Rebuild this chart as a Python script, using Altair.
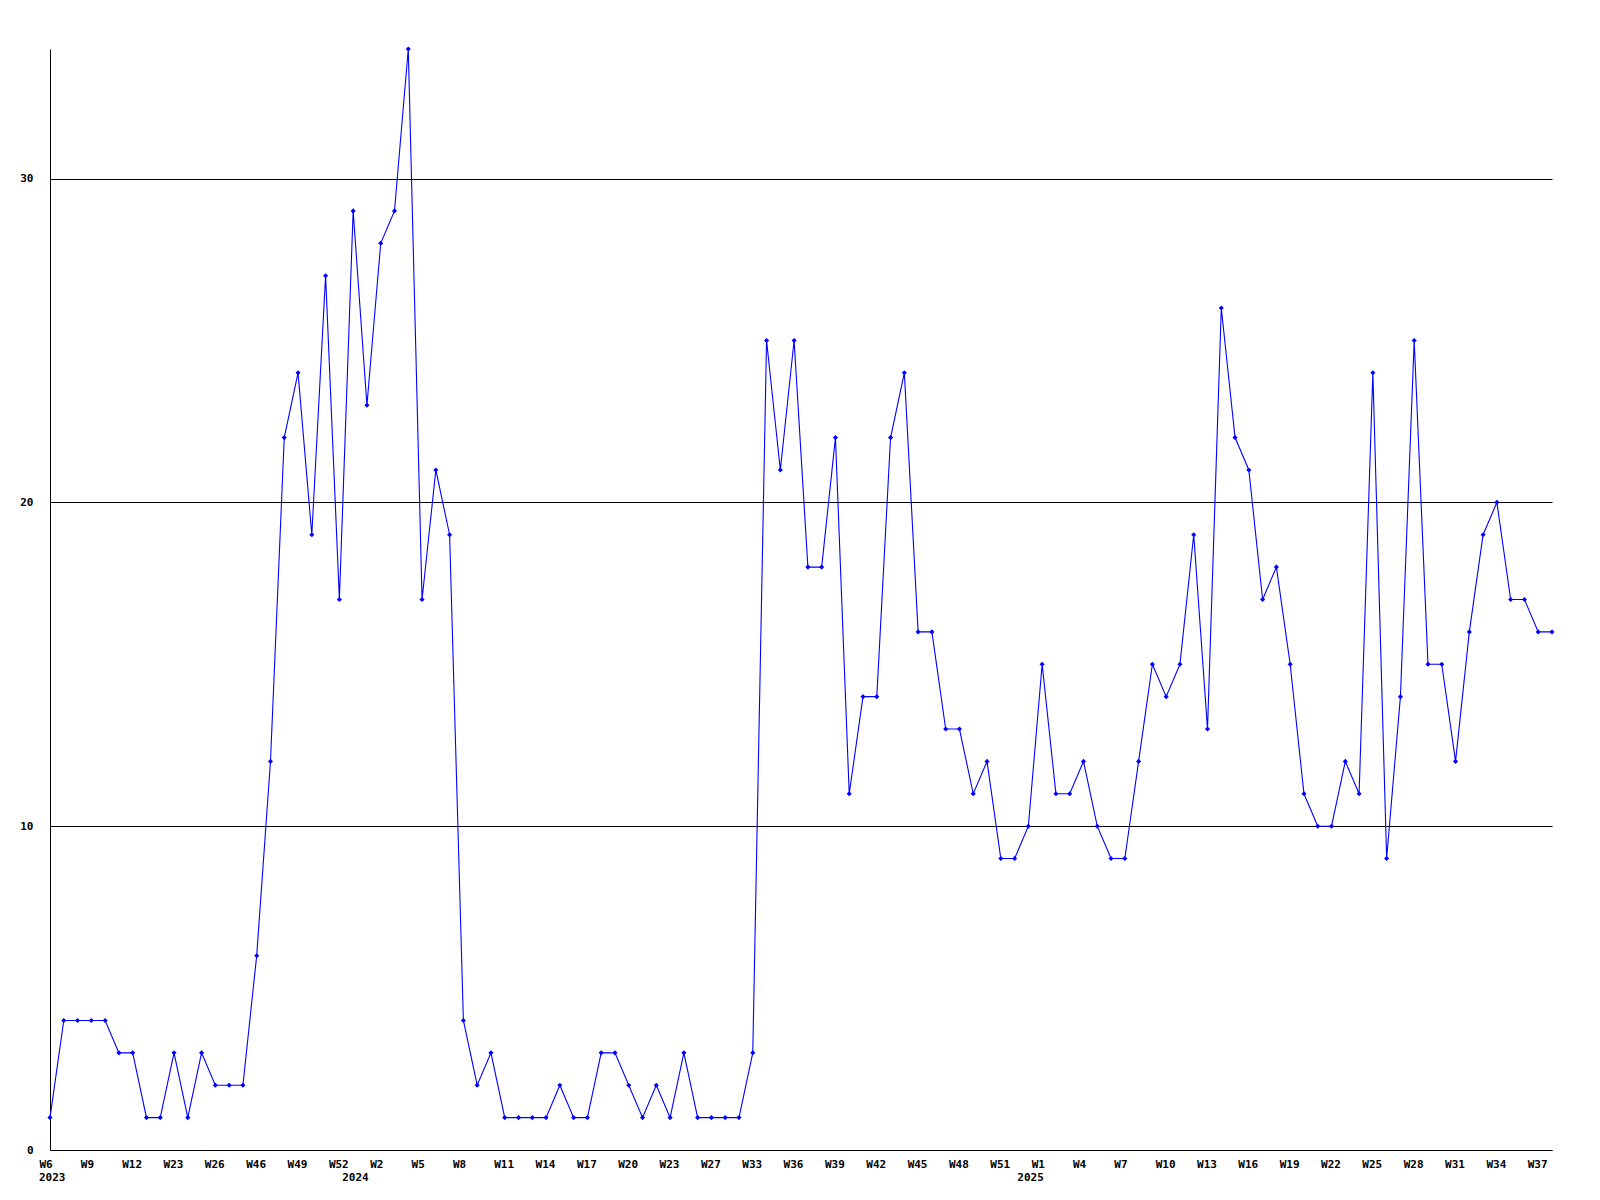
import altair as alt
import pandas as pd

# Weekly counts, one value per point
values = [
    1, 4, 4, 4, 4, 3, 3, 1, 1, 3, 1, 3, 2, 2, 2, 6, 12, 22, 24, 19,
    27, 17, 29, 23, 28, 29, 34, 17, 21, 19,
    4, 2, 3, 1, 1, 1, 1, 2, 1, 1, 3, 3, 2, 1, 2, 1, 3, 1, 1, 1, 1, 3,
    25, 21, 25, 18, 18, 22, 11, 14, 14, 22, 24, 16, 16, 13, 13, 11, 12, 9,
    9, 10, 15, 11, 11, 12, 10, 9, 9, 12, 15, 14, 15, 19, 13, 26, 22, 21,
    17, 18, 15, 11, 10, 10, 12, 11, 24, 9, 14, 25, 15, 15, 12, 16, 19, 20,
    17, 17, 16, 16,
]

# Tick labels (one every third point)
tick_labels = [
    "W6", "W9", "W12", "W23", "W26", "W46", "W49", "W52", "W2", "W5",
    "W8", "W11", "W14", "W17", "W20", "W23", "W27", "W33", "W36", "W39",
    "W42", "W45", "W48", "W51", "W1", "W4", "W7", "W10", "W13", "W16",
    "W19", "W22", "W25", "W28", "W31", "W34", "W37",
]
tick_step = 3

# Year labels and the point index where each year starts
year_labels = ["2023", "2024", "2025"]
year_index = [0, 22, 71]

y_ticks = [0, 10, 20, 30]

n = len(values)
df = pd.DataFrame({"i": list(range(n)), "v": values})
years = pd.DataFrame({"i": year_index, "label": year_labels})

FONT = "DejaVu Sans Mono"
W, H = 1502, 1101

label_arr = "[" + ",".join("'" + t + "'" for t in tick_labels) + "]"
tick_values = [k * tick_step for k in range(len(tick_labels))]

xscale = alt.Scale(domain=[0, n - 1], nice=False, zero=False)
yscale = alt.Scale(domain=[0, 34], nice=False)

x_enc = alt.X(
    "i:Q",
    scale=xscale,
    axis=alt.Axis(
        values=tick_values,
        labelExpr=label_arr + "[round(datum.value / " + str(tick_step) + ")]",
        ticks=False,
        grid=False,
        domainColor="black",
        domainWidth=1,
        labelAlign="left",
        labelOffset=-11,
        labelBaseline="top",
        labelPadding=8,
        labelFont=FONT,
        labelFontSize=11,
        labelFontWeight="bold",
        labelColor="black",
        labelOverlap=False,
        labelFlush=False,
        title=None,
    ),
)
y_enc = alt.Y(
    "v:Q",
    scale=yscale,
    axis=alt.Axis(
        values=y_ticks,
        ticks=False,
        grid=True,
        gridColor="black",
        gridOpacity=1,
        gridWidth=1,
        domainColor="black",
        domainWidth=1,
        labelPadding=17,
        labelFont=FONT,
        labelFontSize=11,
        labelFontWeight="bold",
        labelColor="black",
        labelFlush=False,
        title=None,
    ),
)

line = alt.Chart(df).mark_line(color="#0000ff", strokeWidth=1.1).encode(x=x_enc, y=y_enc)
pts = alt.Chart(df).mark_point(
    shape="diamond", filled=True, color="#0000ff", size=26, opacity=1
).encode(x=alt.X("i:Q", scale=xscale), y=alt.Y("v:Q", scale=yscale))

year_text = alt.Chart(years).mark_text(
    align="left", baseline="middle", dx=-11, font=FONT, fontSize=11,
    fontWeight="bold", color="black",
).encode(x=alt.X("i:Q", scale=xscale), y=alt.value(H + 28), text="label:N")

chart = (
    alt.layer(line, pts, year_text)
    .properties(
        width=W,
        height=H,
        background="white",
        autosize=alt.AutoSizeParams(type="none"),
        padding={"left": 42, "top": 41, "right": 40, "bottom": 50},
    )
    .configure_view(stroke="transparent", strokeWidth=0)
)

chart.save("out.html", embed_options={"renderer": "svg", "actions": False})
